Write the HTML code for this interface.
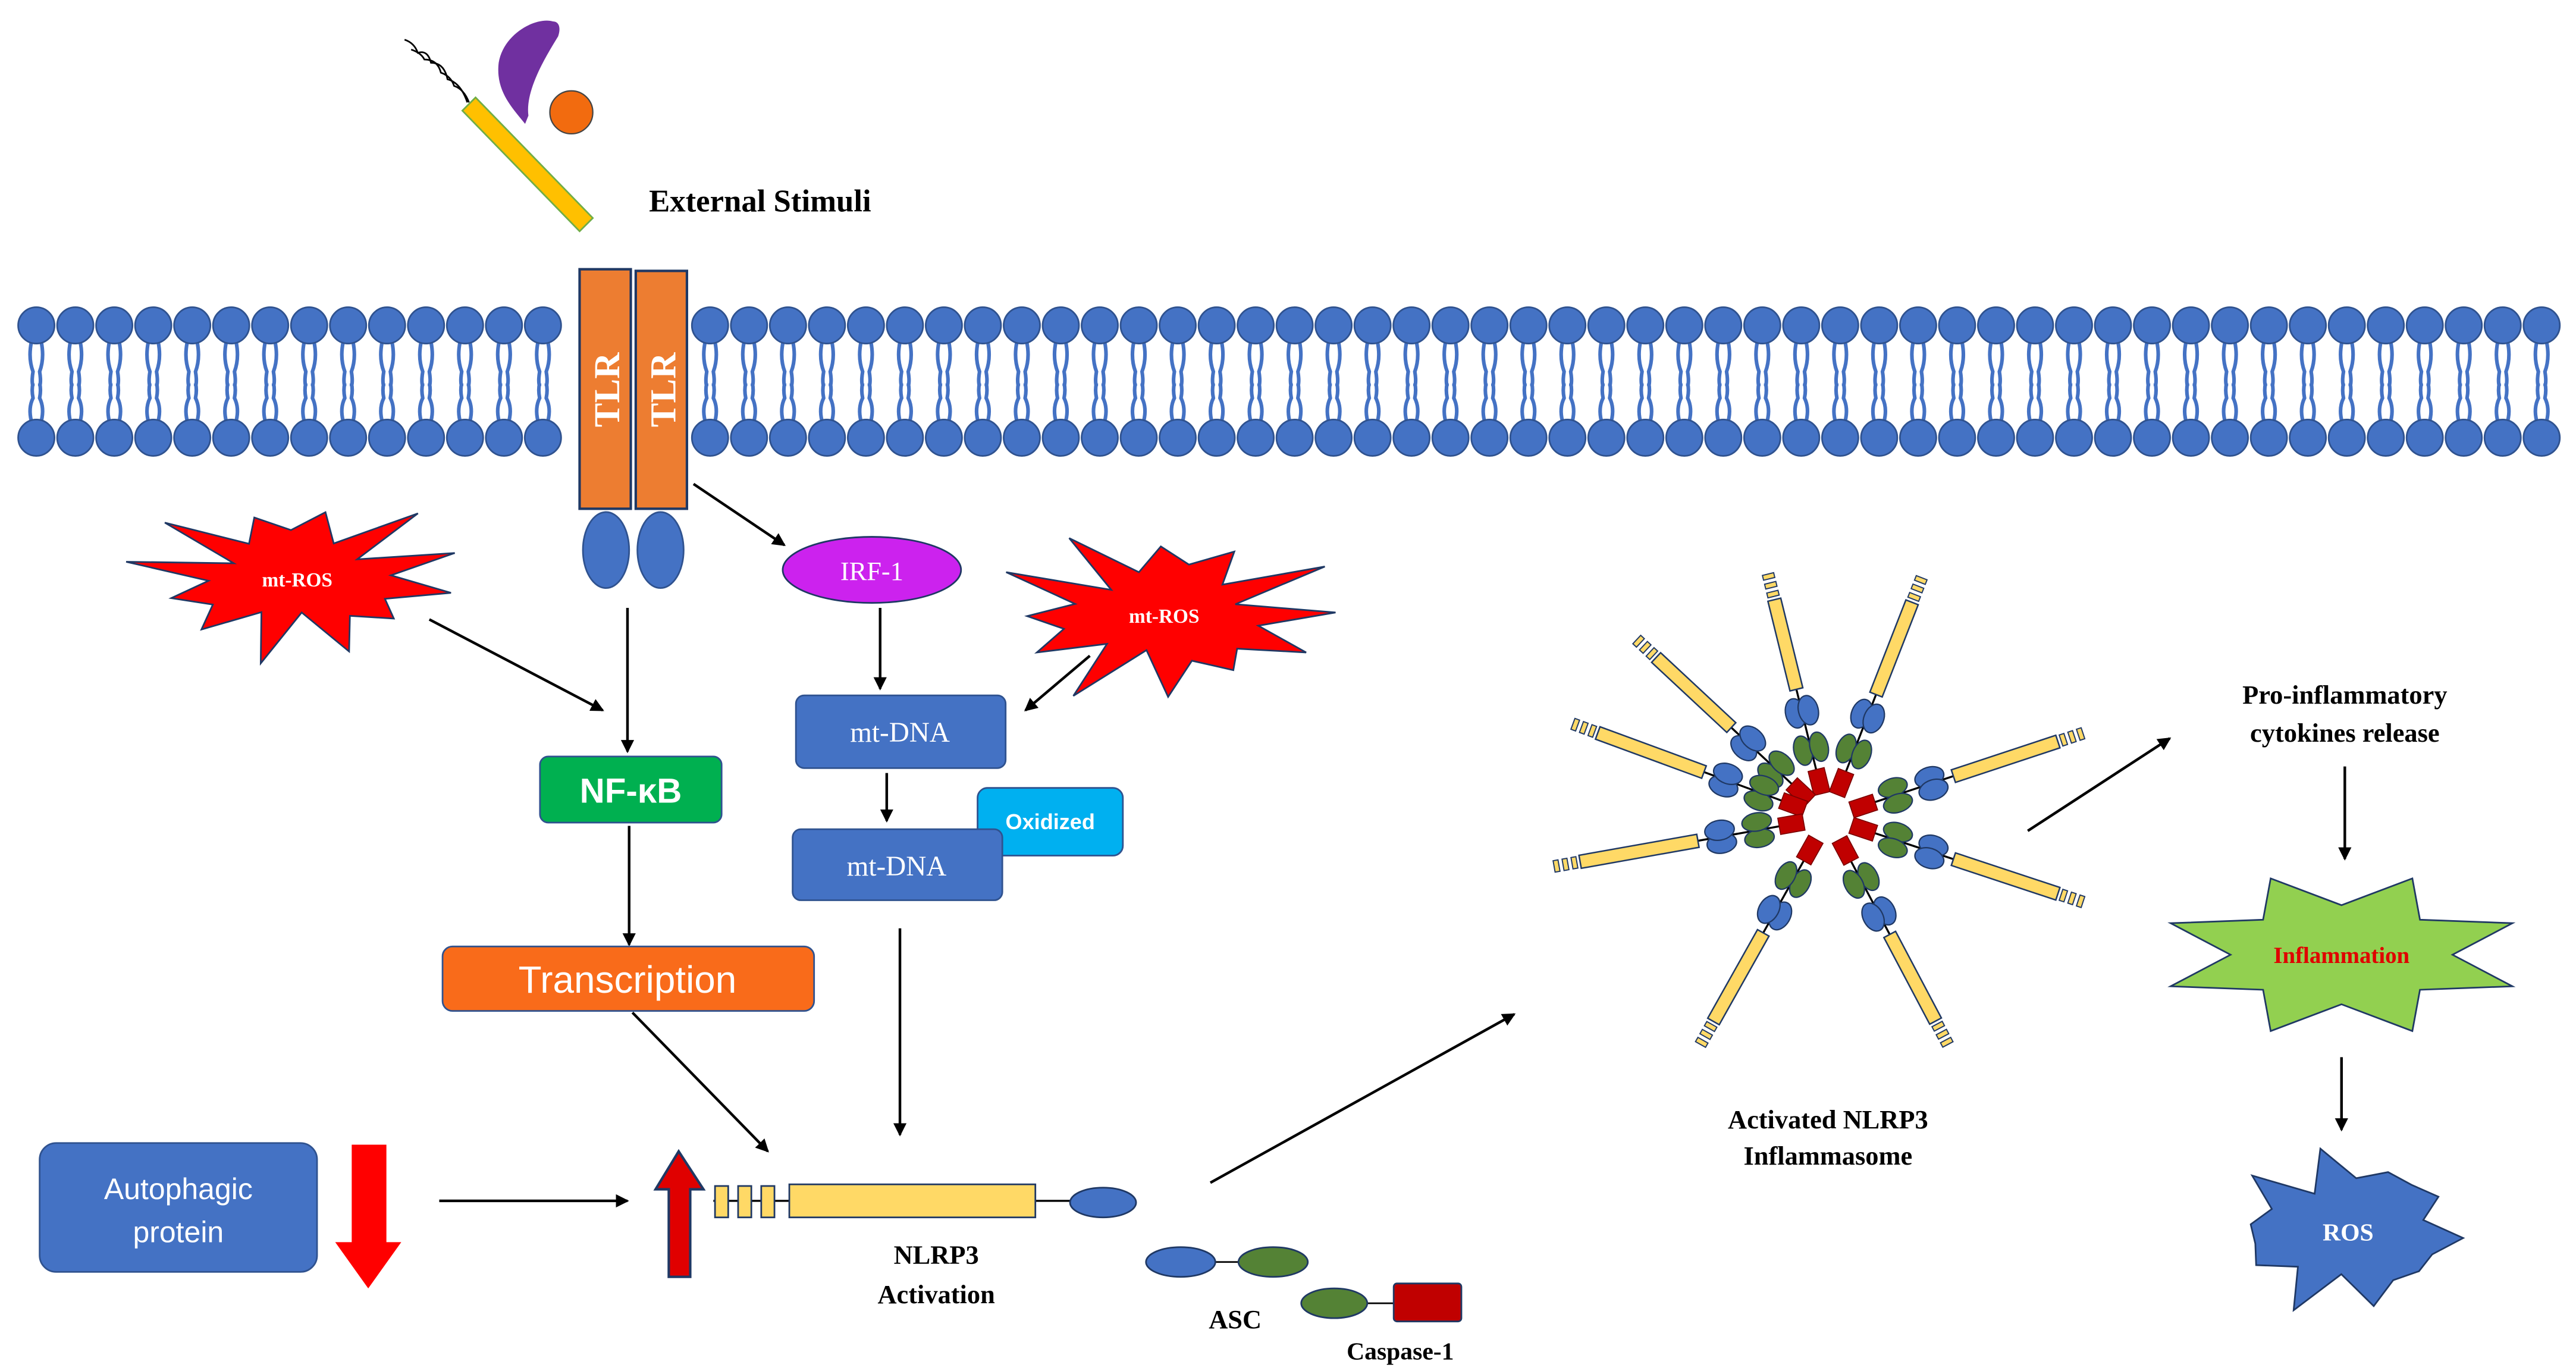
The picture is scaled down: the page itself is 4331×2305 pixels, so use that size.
<!DOCTYPE html>
<html><head><meta charset="utf-8"><style>
html,body{margin:0;padding:0;background:#fff;}
svg{display:block;}
.sf{font-family:"Liberation Serif",serif;}
.ss{font-family:"Liberation Sans",sans-serif;}
</style></head><body>
<svg id="s" width="4331" height="2305" viewBox="0 0 1560 830" preserveAspectRatio="none" xmlns="http://www.w3.org/2000/svg">
<defs>
<marker id="ah" markerWidth="8" markerHeight="8" refX="7" refY="4" orient="auto" markerUnits="userSpaceOnUse"><path d="M0,0 L8,4 L0,8 Z" fill="#000"/></marker>
</defs>
<rect width="1560" height="830" fill="#fff"/>
<g id="mem"></g>
<!-- stimuli -->
<path d="M245,24 q6,2 8,8 q6,-2 8,6 q8,0 10,10 q8,2 12,14" fill="none" stroke="#000" stroke-width="1"/>
<path d="M249,30 q6,2 8,6 q8,0 10,8 q6,2 8,8 q6,2 9,10" fill="none" stroke="#000" stroke-width="1"/>
<polygon points="288,59 359,132 351,140 280,67" fill="#FFC000" stroke="#70AD47" stroke-width="1"/>
<path d="M335,13 C325,10 305,20 302,38 C300,55 310,65 318,75 L320,70 C318,55 330,35 338,22 C340,16 338,13 335,13 Z" fill="#7030A0"/>
<circle cx="346" cy="68" r="13" fill="#F26B0F" stroke="#444" stroke-width="0.8"/>
<text x="393" y="128" class="sf" font-size="19" font-weight="bold">External Stimuli</text>
<!-- TLR -->
<rect x="351" y="163" width="31" height="145" fill="#ED7D31" stroke="#1F3864" stroke-width="1.5"/>
<rect x="385" y="164" width="31" height="144" fill="#ED7D31" stroke="#1F3864" stroke-width="1.5"/>
<text transform="translate(375,236) rotate(-90)" text-anchor="middle" class="sf" font-size="22" font-weight="bold" fill="#fff">TLR</text>
<text transform="translate(409,236) rotate(-90)" text-anchor="middle" class="sf" font-size="22" font-weight="bold" fill="#fff">TLR</text>
<ellipse cx="367" cy="333" rx="14" ry="23" fill="#4472C4" stroke="#2F528F"/>
<ellipse cx="400" cy="333" rx="14" ry="23" fill="#4472C4" stroke="#2F528F"/>
<g id="stars"></g>
<text x="180" y="355" text-anchor="middle" class="sf" font-size="12" font-weight="bold" fill="#fff">mt-ROS</text>
<text x="705" y="377" text-anchor="middle" class="sf" font-size="12" font-weight="bold" fill="#fff">mt-ROS</text>
<ellipse cx="528" cy="345" rx="54" ry="20" fill="#CC22EE" stroke="#1F3864"/>
<text x="528" y="351" text-anchor="middle" class="sf" font-size="16" fill="#fff">IRF-1</text>
<g stroke="#000" stroke-width="1.6" marker-end="url(#ah)">
<line x1="420" y1="293" x2="475" y2="330"/>
<line x1="260" y1="375" x2="365" y2="430"/>
<line x1="380" y1="368" x2="380" y2="455"/>
<line x1="533" y1="368" x2="533" y2="417"/>
<line x1="660" y1="397" x2="621" y2="430"/>
<line x1="381" y1="500" x2="381" y2="572"/>
<line x1="537" y1="468" x2="537" y2="497"/>
<line x1="545" y1="562" x2="545" y2="687"/>
<line x1="383" y1="613" x2="465" y2="697"/>
<line x1="266" y1="727" x2="380" y2="727"/>
<line x1="733" y1="716" x2="917" y2="614"/>
<line x1="1228" y1="503" x2="1314" y2="447"/>
<line x1="1420" y1="464" x2="1420" y2="520"/>
<line x1="1418" y1="640" x2="1418" y2="684"/>
</g>
<rect x="327" y="458" width="110" height="40" rx="5" fill="#00B050" stroke="#2F528F"/>
<text x="382" y="486" text-anchor="middle" class="ss" font-size="21" font-weight="bold" fill="#fff">NF-κB</text>
<rect x="268" y="573" width="225" height="39" rx="6" fill="#F96B1A" stroke="#2F528F"/>
<text x="380" y="601" text-anchor="middle" class="ss" font-size="23" fill="#fff">Transcription</text>
<rect x="482" y="421" width="127" height="44" rx="5" fill="#4472C4" stroke="#2F528F"/>
<text x="545" y="449" text-anchor="middle" class="sf" font-size="17" fill="#fff">mt-DNA</text>
<rect x="592" y="477" width="88" height="41" rx="6" fill="#00B0F0" stroke="#2F528F"/>
<text x="636" y="502" text-anchor="middle" class="ss" font-size="13" font-weight="bold" fill="#fff">Oxidized</text>
<rect x="480" y="502" width="127" height="43" rx="5" fill="#4472C4" stroke="#2F528F"/>
<text x="543" y="530" text-anchor="middle" class="sf" font-size="17" fill="#fff">mt-DNA</text>
<rect x="24" y="692" width="168" height="78" rx="10" fill="#4472C4" stroke="#2F528F"/>
<text x="108" y="726" text-anchor="middle" class="ss" font-size="18" fill="#fff">Autophagic</text>
<text x="108" y="752" text-anchor="middle" class="ss" font-size="18" fill="#fff">protein</text>
<path d="M213,693 H234 V752 H243 L223,780 L203,752 H213 Z" fill="#FF0000"/>
<path d="M405,773 H418 V720 H426 L411,697 L397,720 H405 Z" fill="#E00000" stroke="#1F3864" stroke-width="1.5"/>
<line x1="432" y1="727" x2="668" y2="727" stroke="#000" stroke-width="1.2"/>
<rect x="433" y="718" width="8" height="19" fill="#FFD966" stroke="#1F3864"/>
<rect x="447" y="718" width="8" height="19" fill="#FFD966" stroke="#1F3864"/>
<rect x="461" y="718" width="8" height="19" fill="#FFD966" stroke="#1F3864"/>
<rect x="478" y="717" width="149" height="20" fill="#FFD966" stroke="#1F3864"/>
<ellipse cx="668" cy="728" rx="20" ry="9" fill="#4472C4" stroke="#1F3864"/>
<text x="567" y="765" text-anchor="middle" class="sf" font-size="16" font-weight="bold">NLRP3</text>
<text x="567" y="789" text-anchor="middle" class="sf" font-size="16" font-weight="bold">Activation</text>
<line x1="715" y1="764" x2="771" y2="764" stroke="#000"/>
<ellipse cx="715" cy="764" rx="21" ry="9" fill="#4472C4" stroke="#1F3864"/>
<ellipse cx="771" cy="764" rx="21" ry="9" fill="#548235" stroke="#1F3864"/>
<text x="748" y="804" text-anchor="middle" class="sf" font-size="16" font-weight="bold">ASC</text>
<line x1="808" y1="789" x2="845" y2="789" stroke="#000"/>
<ellipse cx="808" cy="789" rx="20" ry="9" fill="#548235" stroke="#1F3864"/>
<rect x="844" y="777" width="41" height="23" rx="2" fill="#C00000" stroke="#1F3864"/>
<text x="848" y="823" text-anchor="middle" class="sf" font-size="15" font-weight="bold">Caspase-1</text>
<g id="infl"></g>
<text x="1107" y="683" text-anchor="middle" class="sf" font-size="16" font-weight="bold">Activated NLRP3</text>
<text x="1107" y="705" text-anchor="middle" class="sf" font-size="16" font-weight="bold">Inflammasome</text>
<text x="1420" y="426" text-anchor="middle" class="sf" font-size="16" font-weight="bold">Pro-inflammatory</text>
<text x="1420" y="449" text-anchor="middle" class="sf" font-size="16" font-weight="bold">cytokines release</text>
<text x="1418" y="583" text-anchor="middle" class="sf" font-size="14" font-weight="bold" fill="#E00000">Inflammation</text>
<text x="1422" y="751" text-anchor="middle" class="sf" font-size="15" font-weight="bold" fill="#fff">ROS</text>
</svg>
<script>
var NS="http://www.w3.org/2000/svg";
function el(p,t,a){var e=document.createElementNS(NS,t);for(var k in a)e.setAttribute(k,a[k]);p.appendChild(e);return e;}
var mem=document.getElementById('mem');
function row(x0,x1){for(var x=x0;x<=x1;x+=23.6){
 ["M"+(x-3)+",207 q-2,10 1,18 q-1,6 0,9","M"+(x+3)+",207 q2,10 -1,18 q1,6 0,9"].forEach(function(d){el(mem,'path',{d:d,fill:'none',stroke:'#4472C4','stroke-width':2.2});});
 ["M"+(x-3)+",255 q-2,-8 1,-14 q-1,-5 0,-9","M"+(x+3)+",255 q2,-8 -1,-14 q1,-5 0,-9"].forEach(function(d){el(mem,'path',{d:d,fill:'none',stroke:'#4472C4','stroke-width':2.2});});
 el(mem,'circle',{cx:x,cy:197,r:11,fill:'#4472C4',stroke:'#2F528F','stroke-width':1});
 el(mem,'circle',{cx:x,cy:265,r:11,fill:'#4472C4',stroke:'#2F528F','stroke-width':1});}}
row(22,340);row(430,1548);
var st=document.getElementById('stars');
function star(cx,cy,rx,ry,n,inner,fill,rot,jit){var pts=[];for(var i=0;i<2*n;i++){var a=rot+Math.PI*i/n;var r=(i%2==0)?1:inner;var j=jit?(1+0.18*Math.sin(i*2.3)):1;pts.push((cx+rx*r*j*Math.cos(a)).toFixed(1)+","+(cy+ry*r*j*Math.sin(a)).toFixed(1));}
el(st,'polygon',{points:pts.join(" "),fill:fill,stroke:'#1F3864','stroke-width':1});}
star(180,350,95,45,12,0.55,'#FF0000',0.2,true);
star(705,372,98,48,12,0.55,'#FF0000',0.5,true);
star(1418,578,112,50,8,0.6,'#92D050',Math.PI/8,false);
star(1422,745,70,45,10,0.7,'#4472C4',0.1,true);
var g=document.getElementById('infl');var cx=1107,cy=495;
var tips=[[-160,-650],[250,-640],[-510,-475],[-680,-250],[-730,130],[-340,605],[320,605],[680,225],[680,-225]];
tips.forEach(function(t){var a=Math.atan2(t[1],t[0]);var deg=a*180/Math.PI;var L=Math.sqrt(t[0]*t[0]+t[1]*t[1])/4.35;
 var sg=el(g,'g',{transform:"translate("+cx+","+cy+") rotate("+deg+")"});
 el(sg,'line',{x1:20,y1:0,x2:L-20,y2:0,stroke:'#000','stroke-width':1.2});
 el(sg,'rect',{x:15,y:-5,width:15,height:10,fill:'#C00000',stroke:'#7a0000','stroke-width':0.6});
 el(sg,'ellipse',{cx:43,cy:-5,rx:9,ry:5.5,fill:'#548235',stroke:'#1F3864','stroke-width':0.8});
 el(sg,'ellipse',{cx:43,cy:5,rx:9,ry:5.5,fill:'#548235',stroke:'#1F3864','stroke-width':0.8});
 el(sg,'ellipse',{cx:66,cy:-4,rx:9,ry:6,fill:'#4472C4',stroke:'#1F3864','stroke-width':0.8});
 el(sg,'ellipse',{cx:66,cy:4,rx:9,ry:6,fill:'#4472C4',stroke:'#1F3864','stroke-width':0.8});
 var b0=80,b1=L-18;el(sg,'rect',{x:b0,y:-4,width:b1-b0,height:8,fill:'#FFD966',stroke:'#1F3864','stroke-width':0.9});
 for(var i=0;i<3;i++)el(sg,'rect',{x:b1+2+i*5.5,y:-3.5,width:3,height:7,fill:'#FFD966',stroke:'#1F3864','stroke-width':0.7});
});
</script>
</body></html>
